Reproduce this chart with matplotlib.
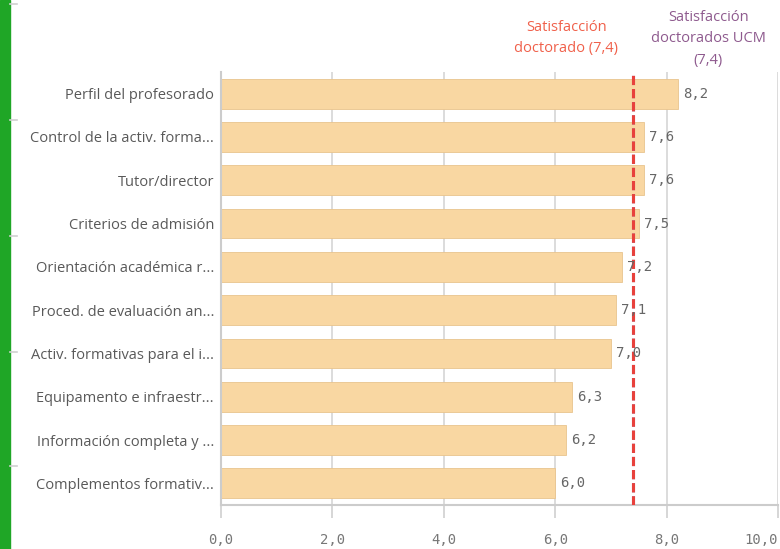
import matplotlib.pyplot as plt
from matplotlib.lines import Line2D
from matplotlib.patches import Rectangle

categories = [
    "Perfil del profesorado",
    "Control de la activ. forma...",
    "Tutor/director",
    "Criterios de admisión",
    "Orientación académica r...",
    "Proced. de evaluación an...",
    "Activ. formativas para el i...",
    "Equipamento e infraestr...",
    "Información completa y ...",
    "Complementos formativ...",
]
values = [8.2, 7.6, 7.6, 7.5, 7.2, 7.1, 7.0, 6.3, 6.2, 6.0]
ref_doctorado = 7.4
ref_ucm = 7.4
xticks = [0, 2, 4, 6, 8, 10]

plt.rcParams['font.family'] = ['Open Sans', 'DejaVu Sans']

fig = plt.figure(figsize=(7.8, 5.49), dpi=100)
ax = fig.add_axes([221 / 780, 1 - 505 / 549, 557 / 780, 433 / 549])

y = list(range(len(categories)))
ax.barh(y, values, height=0.69, color='#f9d7a2', edgecolor='#e9c48e', linewidth=0.6, zorder=2)

for yi, v in zip(y, values):
    ax.annotate(f"{v:.1f}".replace('.', ','), xy=(v, yi), xytext=(5, 0),
                textcoords='offset pixels', va='center', ha='left',
                fontsize=10, color='#666666', family='DejaVu Sans Mono', zorder=5)

ax.set_xlim(0, 10)
ax.set_ylim(len(categories) - 0.5, -0.5)
ax.set_yticks(y)
ax.set_yticklabels(categories, fontsize=10.5, color='#595959')
ax.tick_params(axis='y', length=0, pad=5)

ax.set_xticks(xticks)
xlabels = ax.set_xticklabels([f"{t:.1f}".replace('.', ',') for t in xticks],
                             family='DejaVu Sans Mono', fontsize=10, color='#777777')
xlabels[-1].set_horizontalalignment('right')
ax.tick_params(axis='x', length=9, width=1.2, color='#d0d0d0', pad=11)

ax.grid(axis='x', color='#d6d6d6', linewidth=1.2, zorder=0)
for s in ['top', 'right']:
    ax.spines[s].set_visible(False)
ax.spines['left'].set_color('#cccccc')
ax.spines['left'].set_linewidth(1.5)
ax.spines['bottom'].set_color('#cccccc')
ax.spines['bottom'].set_linewidth(1.5)

# reference lines
ax.axvline(ref_ucm, color='#8e5a8e', linewidth=2.2, linestyle=(0, (3, 1.3)), zorder=3)
ax.axvline(ref_doctorado, color='#e8413c', linewidth=2.2, linestyle=(0, (3, 1.3)), zorder=4)

tr = ax.get_xaxis_transform()
ax.annotate("Satisfacción\ndoctorado (7,4)", xy=(ref_doctorado, 1), xycoords=tr,
            xytext=(-67, 34), textcoords='offset pixels', ha='center', va='center',
            multialignment='center', fontsize=10.5, linespacing=1.55,
            color='#f0604a', annotation_clip=False)
ax.annotate("Satisfacción\ndoctorados UCM\n(7,4)", xy=(ref_ucm, 1), xycoords=tr,
            xytext=(75, 33), textcoords='offset pixels', ha='center', va='center',
            multialignment='center', fontsize=10.5, linespacing=1.55,
            color='#8e5a8e', annotation_clip=False)

# left decoration
fig.patches.append(Rectangle((0, 0), 10 / 780, 1, transform=fig.transFigure,
                             color='#1fa626', zorder=0))
for py in [4, 120, 236, 352, 466]:
    fig.lines.append(Line2D([10 / 780, 17 / 780], [1 - py / 549] * 2,
                            transform=fig.transFigure, color='#d0d0d0', linewidth=1.2))

fig.savefig("out.png", dpi=100)
